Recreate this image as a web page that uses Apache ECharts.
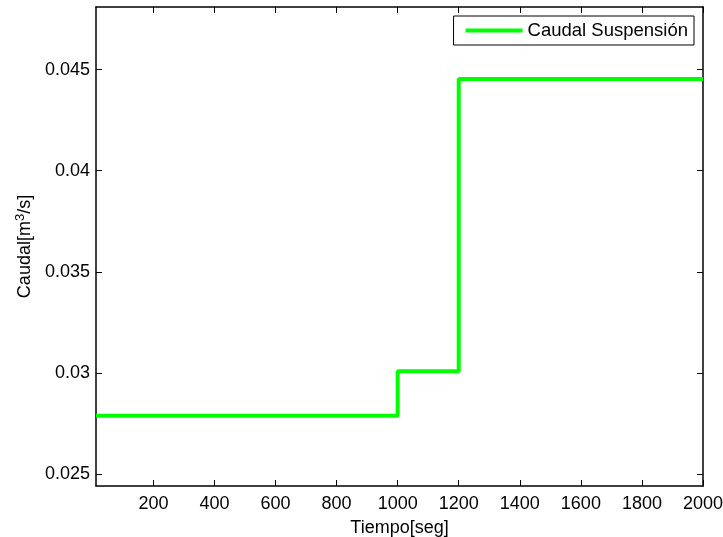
<!DOCTYPE html>
<html>
<head>
<meta charset="utf-8">
<script src="https://cdn.jsdelivr.net/npm/echarts@6/dist/echarts.min.js"></script>
<style>
  html, body { margin: 0; padding: 0; background: #fff; }
  #main { width: 723px; height: 537px; }
</style>
</head>
<body>
<div id="main"></div>
<script>
// breakpoints of the step signal (s) and the level held in each interval (m3/s)
var stepTimes = [12, 1000, 1200, 2000];
var levels = [0.02788, 0.03008, 0.04454];
var xTicks = [200, 400, 600, 800, 1000, 1200, 1400, 1600, 1800, 2000];
var yTicks = [0.025, 0.03, 0.035, 0.04, 0.045];
var seriesName = 'Caudal Suspensión';

// build the staircase from the arrays
var points = [];
for (var i = 0; i < levels.length; i++) {
    points.push([stepTimes[i], levels[i]]);
    points.push([stepTimes[i + 1], levels[i]]);
}

var font = 'Liberation Sans, Arial, Helvetica, sans-serif';
var fs = 18;

var chart = echarts.init(document.getElementById('main'));
var axisLine = { show: true, onZero: false, lineStyle: { color: '#000', width: 1.5 } };

chart.setOption({
    animation: false,
    backgroundColor: '#fff',
    grid: { left: 96, right: 20, top: 7, bottom: 51, containLabel: false, outerBoundsMode: 'none' },
    legend: {
        right: 29,
        top: 16,
        data: [{ name: seriesName, icon: 'rect' }],
        itemWidth: 57,
        itemHeight: 4,
        padding: [5, 6, 5, 12],
        borderColor: '#000',
        borderWidth: 1,
        backgroundColor: '#fff',
        textStyle: { fontFamily: font, fontSize: 18.5, color: '#000' }
    },
    xAxis: [{
        type: 'value',
        min: stepTimes[0],
        max: stepTimes[stepTimes.length - 1],
        name: 'Tiempo[seg]',
        nameLocation: 'middle',
        nameGap: 33,
        nameTextStyle: { fontFamily: font, fontSize: fs, color: '#000' },
        axisLine: axisLine,
        splitLine: { show: false },
        axisTick: { inside: true, length: 6, customValues: xTicks, lineStyle: { color: '#000' } },
        axisLabel: {
            customValues: xTicks, margin: 9, fontFamily: font, fontSize: fs, color: '#000',
            formatter: function (v) { return String(v); }
        }
    }, {
        type: 'value',
        position: 'top',
        min: stepTimes[0],
        max: stepTimes[stepTimes.length - 1],
        axisLine: axisLine,
        splitLine: { show: false },
        axisTick: { inside: true, length: 6, customValues: xTicks, lineStyle: { color: '#000' } },
        axisLabel: { show: false }
    }],
    yAxis: [{
        type: 'value',
        min: 0.0244,
        max: 0.0481,
        name: 'Caudal[m{sup|3}/s]',
        nameLocation: 'middle',
        nameGap: 58,
        nameTextStyle: {
            fontFamily: font, fontSize: fs, color: '#000',
            rich: { sup: { fontFamily: font, fontSize: 13, color: '#000', padding: [0, 0, 10, 0] } }
        },
        axisLine: axisLine,
        splitLine: { show: false },
        axisTick: { inside: true, length: 6, customValues: yTicks, lineStyle: { color: '#000' } },
        axisLabel: {
            customValues: yTicks, margin: 6, fontFamily: font, fontSize: fs, color: '#000',
            formatter: function (v) { return String(+v.toFixed(4)); }
        }
    }, {
        type: 'value',
        position: 'right',
        min: 0.0244,
        max: 0.0481,
        axisLine: axisLine,
        splitLine: { show: false },
        axisTick: { inside: true, length: 6, customValues: yTicks, lineStyle: { color: '#000' } },
        axisLabel: { show: false }
    }],
    series: [{
        name: seriesName,
        type: 'line',
        data: points,
        showSymbol: false,
        symbol: 'none',
        color: '#00ff00',
        lineStyle: { color: '#00ff00', width: 4 },
        itemStyle: { color: '#00ff00' }
    }]
});
</script>
</body>
</html>
